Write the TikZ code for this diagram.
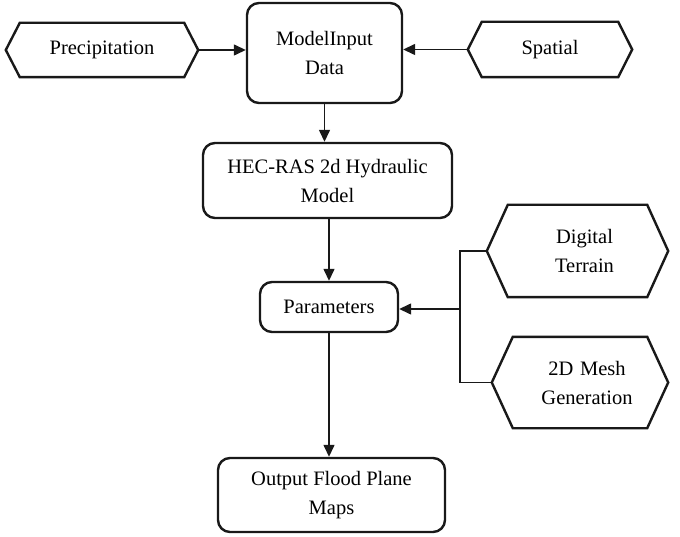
\documentclass[tikz,border=0pt]{standalone}
\usepackage{fontspec}
\setmainfont{Liberation Serif}
\usetikzlibrary{arrows.meta,calc}
\tikzset{
  txt/.style={font=\fontsize{20.5}{29}\selectfont, align=center, inner sep=0pt, text=black},
  rbox/.style={txt, draw=black!90, line width=2.4pt, rounded corners=12pt},
  hexnode/.style={txt},
  conn/.style={draw=black!90, line width=1.4pt, -{Triangle[length=12pt,width=11pt]}},
  plainline/.style={draw=black!90, line width=1.4pt},
  hexline/.style={draw=black!90, line width=2.4pt, line join=miter}
}
\newcommand\hexdraw[2]{\draw[hexline] (#1.west) -- ($(#1.north west)+(#2,0)$) -- ($(#1.north east)+(-#2,0)$) -- (#1.east) -- ($(#1.south east)+(-#2,0)$) -- ($(#1.south west)+(#2,0)$) -- cycle;}
\begin{document}
\begin{tikzpicture}[x=1pt,y=-1pt]
  \useasboundingbox[fill=white] (0,0) rectangle (680,537);
  % nodes
  \node[hexnode, minimum width=192pt, minimum height=54pt] (prec) at (102,50) {Precipitation};
  \node[rbox, minimum width=155pt, minimum height=100pt] (model) at (324.5,53) {ModelInput\\Data};
  \node[hexnode, minimum width=164pt, minimum height=55pt] (spat) at (550,49.5) {Spatial};
  \node[rbox, minimum width=249pt, minimum height=75pt] (hec) at (327.5,180.5) {HEC-RAS 2d Hydraulic\\Model};
  \node[rbox, minimum width=138pt, minimum height=50pt] (param) at (329,307) {Parameters};
  \node[hexnode, minimum width=181pt, minimum height=92pt, text width=181pt] (dig) at (577.5,251) {\hspace*{14pt}Digital\\\hspace*{14pt}Terrain};
  \node[hexnode, minimum width=176pt, minimum height=91pt, text width=176pt] (mesh) at (580,382.5) {\hspace*{14pt}2D Mesh\\\hspace*{14pt}Generation};
  \node[rbox, minimum width=227pt, minimum height=74pt] (out) at (331.5,495) {Output Flood Plane\\Maps};
  % hexagon outlines
  \hexdraw{prec}{14}
  \hexdraw{spat}{14}
  \hexdraw{dig}{21}
  \hexdraw{mesh}{21}
  % connectors
  \draw[conn] (prec.east) -- (prec.east -| model.west);
  \draw[conn] (spat.west) -- (spat.west -| model.east);
  \draw[conn] (model.south) -- (model.south |- hec.north);
  \draw[conn] (param.north |- hec.south) -- (param.north);
  \draw[conn] (param.south) -- (param.south |- out.north);
  \coordinate (junc) at (460,309);
  \draw[plainline] (dig.west) -- (dig.west -| junc) -- (mesh.west -| junc) -- (mesh.west);
  \draw[conn] (junc) -- (junc -| param.east);
\end{tikzpicture}
\end{document}
